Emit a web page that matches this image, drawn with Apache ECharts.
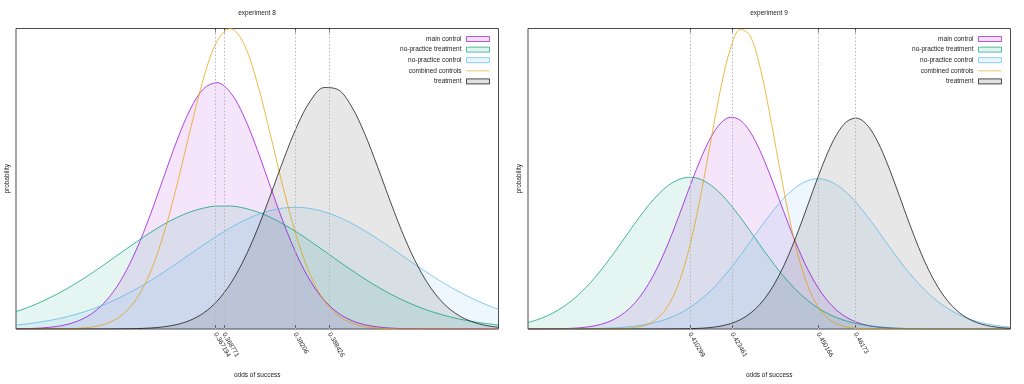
<!DOCTYPE html>
<html><head><meta charset="utf-8">
<script src="https://cdn.jsdelivr.net/npm/echarts@6/dist/echarts.min.js"></script>
<style>html,body{margin:0;padding:0;background:#fff}#c{width:1024px;height:384px}</style>
</head><body><div id="c"></div>
<script>
const seriesNames = ['main control', 'no-practice treatment', 'no-practice control', 'combined controls', 'treatment'];
const lineColors = ['#9400d3', '#009e73', '#56b4e9', '#e69f00', '#111111'];
const titles = ['experiment 8', 'experiment 9'];

// experiment 8
const x8 = [0.33,0.3325,0.335,0.3375,0.34,0.3425,0.345,0.3475,0.35,0.3525,0.355,0.3575,0.36,0.3625,0.365,0.3675,0.37,0.3725,0.375,0.3775,0.38,0.3825,0.385,0.3875,0.39,0.3925,0.395,0.3975,0.40,0.4025,0.405,0.4075,0.41,0.4125,0.415,0.4175,0.42];
const mainControl8 = [0.06,0.15,0.37,0.83,1.74,3.42,6.30,10.87,17.57,26.62,37.79,50.25,62.62,73.10,79.97,81.96,78.70,70.81,59.69,47.14,34.88,24.19,15.71,9.56,5.45,2.91,1.46,0.68,0.30,0.12,0.05,0.02,0.01,0,0,0,0];
const npTreatment8 = [5.79,7.38,9.28,11.47,13.94,16.68,19.63,22.74,25.91,29.04,32.03,34.75,37.09,38.95,40.25,40.91,40.92,40.26,38.98,37.13,34.79,32.07,29.09,25.96,22.79,19.69,16.73,13.99,11.51,9.32,7.41,5.81,4.48,3.39,2.53,1.86,1.34];
const npControl8 = [1.31,1.80,2.45,3.27,4.31,5.58,7.11,8.92,11.02,13.39,16.02,18.86,21.87,24.95,28.01,30.96,33.69,36.07,38.02,39.45,40.28,40.49,40.06,39.01,37.39,35.28,32.76,29.95,26.95,23.86,20.80,17.84,15.07,12.53,10.25,8.25,6.54];
const combined8 = [0,0,0.01,0.04,0.11,0.34,0.91,2.24,4.99,10.13,18.67,31.31,47.73,66.21,83.53,95.83,99.99,94.89,81.89,64.28,45.89,29.79,17.59,9.45,4.61,2.05,0.83,0.30,0.10,0.03,0.01,0,0,0,0,0,0];
const treatment8 = [0,0,0,0,0,0,0.01,0.02,0.05,0.14,0.32,0.71,1.48,2.91,5.35,9.26,15.06,23.02,33.10,44.72,56.81,67.84,76.15,80.36,79.72,74.34,65.17,53.72,41.61,30.30,20.75,13.36,8.08,4.60,2.46,1.23,0.58];
const ticks8 = [0.367194, 0.368771, 0.38206, 0.388426];

// experiment 9
const x9 = [0.360,0.363,0.366,0.369,0.372,0.375,0.378,0.381,0.384,0.387,0.390,0.393,0.396,0.399,0.402,0.405,0.408,0.411,0.414,0.417,0.420,0.423,0.426,0.429,0.432,0.435,0.438,0.441,0.444,0.447,0.450,0.453,0.456,0.459,0.462,0.465,0.468,0.471,0.474,0.477,0.480,0.483,0.486,0.489,0.492,0.495,0.498,0.501,0.504,0.507,0.510];
const mainControl9 = [0.01,0.02,0.04,0.08,0.16,0.32,0.62,1.13,1.99,3.35,5.42,8.40,12.52,17.89,24.53,32.28,40.76,49.39,57.43,64.07,68.59,70.46,69.46,65.71,59.65,51.96,43.43,34.83,26.81,19.80,14.03,9.54,6.23,3.90,2.34,1.35,0.75,0.40,0.20,0.10,0.05,0.02,0.01,0,0,0,0,0,0,0,0];
const npTreatment9 = [2.17,3.13,4.41,6.06,8.16,10.73,13.81,17.37,21.38,25.72,30.26,34.81,39.17,43.09,46.36,48.77,50.17,50.47,49.65,47.76,44.92,41.32,37.17,32.70,28.12,23.65,19.46,15.65,12.31,9.46,7.12,5.24,3.77,2.65,1.82,1.23,0.81,0.52,0.33,0.20,0.12,0.07,0.04,0.02,0.01,0.01,0,0,0,0,0];
const npControl9 = [0,0,0.01,0.02,0.03,0.05,0.09,0.14,0.24,0.38,0.60,0.92,1.38,2.03,2.92,4.12,5.67,7.65,10.08,13.01,16.41,20.26,24.47,28.90,33.39,37.73,41.72,45.11,47.73,49.39,50.00,49.51,47.96,45.45,42.13,38.19,33.88,29.39,24.94,20.71,16.82,13.36,10.38,7.89,5.87,4.27,3.04,2.11,1.44,0.96,0.62];
const combined9 = [0,0,0,0,0,0,0,0,0.02,0.05,0.16,0.45,1.12,2.57,5.44,10.56,18.80,30.74,46.15,63.61,80.49,93.51,99.73,97.65,87.77,72.44,54.88,38.18,24.38,14.29,7.69,3.80,1.73,0.72,0.27,0.10,0.03,0.01,0,0,0,0,0,0,0,0,0,0,0,0,0];
const treatment9 = [0,0,0,0,0,0,0,0,0,0,0,0,0,0,0.01,0.03,0.06,0.13,0.27,0.53,1.00,1.80,3.10,5.12,8.09,12.24,17.73,24.56,32.56,41.31,50.15,58.27,64.79,68.94,70.19,68.39,63.77,56.90,48.59,39.71,31.05,23.24,16.64,11.40,7.48,4.70,2.82,1.62,0.89,0.47,0.24];
const ticks9 = [0.410299, 0.423461, 0.450166, 0.46173];

const panels = [
  { xs: x8, ys: [mainControl8, npTreatment8, npControl8, combined8, treatment8], ticks: ticks8, min: 0.33, max: 0.42 },
  { xs: x9, ys: [mainControl9, npTreatment9, npControl9, combined9, treatment9], ticks: ticks9, min: 0.36, max: 0.51 }
];

const FONT = 'Liberation Sans, Arial, sans-serif';
const TXT = '#222';
const FS = 6.5;
function fade(hex, a) {
  const n = parseInt(hex.slice(1), 16);
  return 'rgba(' + (n >> 16) + ',' + ((n >> 8) & 255) + ',' + (n & 255) + ',' + a + ')';
}

const gridLeft = [16, 528];
const grids = [], xAxes = [], yAxes = [], series = [], legends = [], titleOpts = [];
panels.forEach((p, pi) => {
  grids.push({ left: gridLeft[pi], top: 28.5, width: 482.5, height: 301.5, show: true, borderColor: '#4a4a4a', borderWidth: 1, backgroundColor: 'transparent' });
  xAxes.push({
    gridIndex: pi, type: 'value', min: p.min, max: p.max, position: 'bottom',
    axisLine: { show: false }, splitLine: { show: false },
    axisTick: { show: true, customValues: p.ticks, inside: true, length: 4, lineStyle: { color: '#333', width: 1 } },
    axisLabel: { show: true, customValues: p.ticks, rotate: -60, margin: 4, fontSize: FS, color: TXT, fontFamily: FONT, formatter: v => String(v) },
    name: 'odds of success', nameLocation: 'middle', nameGap: 43,
    nameTextStyle: { fontSize: FS, color: TXT, fontFamily: FONT }
  });
  xAxes.push({
    gridIndex: pi, type: 'value', min: p.min, max: p.max, position: 'top',
    axisLine: { show: false }, splitLine: { show: false },
    axisTick: { show: true, customValues: p.ticks, inside: true, length: 4, lineStyle: { color: '#333', width: 1 } },
    axisLabel: { show: false }
  });
  yAxes.push({
    gridIndex: pi, type: 'value', min: 0, max: 100,
    axisLine: { show: false }, axisTick: { show: false }, axisLabel: { show: false }, splitLine: { show: false },
    name: 'probability', nameLocation: 'middle', nameGap: 5,
    nameTextStyle: { fontSize: FS, color: TXT, fontFamily: FONT }
  });
  p.ys.forEach((ys, si) => {
    const s = {
      type: 'line', name: seriesNames[si], xAxisIndex: pi * 2, yAxisIndex: pi,
      data: p.xs.map((x, i) => [x, ys[i]]),
      smooth: 0.35, symbol: 'none', showSymbol: false, clip: true,
      lineStyle: { color: lineColors[si], width: 1, opacity: si === 4 ? 0.75 : 0.72 },
      itemStyle: { color: lineColors[si] },
      animation: false, silent: true
    };
    if (si !== 3) s.areaStyle = { color: lineColors[si], opacity: 0.1 };
    if (si === 0) {
      s.markLine = {
        silent: true, symbol: ['none', 'none'], animation: false, precision: 8,
        label: { show: false },
        lineStyle: { color: '#b8b8b8', type: [1.5, 2], width: 1 },
        data: p.ticks.map(v => ({ xAxis: v }))
      };
    }
    series.push(s);
  });
  legends.push({
    orient: 'vertical', right: pi === 0 ? 534 : 22, top: 35.5, align: 'right',
    itemWidth: 23, itemHeight: 5, itemGap: 3.6, padding: 0, selectedMode: false,
    textStyle: { fontSize: FS, lineHeight: 6, color: TXT, fontFamily: FONT },
    data: seriesNames.map((n, si) => si === 3
      ? { name: n, icon: 'path://M0,0H23V1H0Z', itemStyle: { color: fade(lineColors[si], 0.6), borderWidth: 0 } }
      : { name: n, icon: 'rect', itemStyle: { color: fade(lineColors[si], 0.12), borderColor: fade(lineColors[si], si === 4 ? 0.75 : 0.65), borderWidth: 1 } })
  });
  titleOpts.push({
    text: titles[pi], left: gridLeft[pi] + 241, top: 10, textAlign: 'center', padding: 0,
    textStyle: { fontSize: FS, fontWeight: 'normal', color: TXT, fontFamily: FONT }
  });
});

const chart = echarts.init(document.getElementById('c'), null, { renderer: 'canvas' });
chart.setOption({
  animation: false,
  backgroundColor: '#ffffff',
  title: titleOpts,
  legend: legends,
  grid: grids,
  xAxis: xAxes,
  yAxis: yAxes,
  series: series
});
</script>
</body></html>
